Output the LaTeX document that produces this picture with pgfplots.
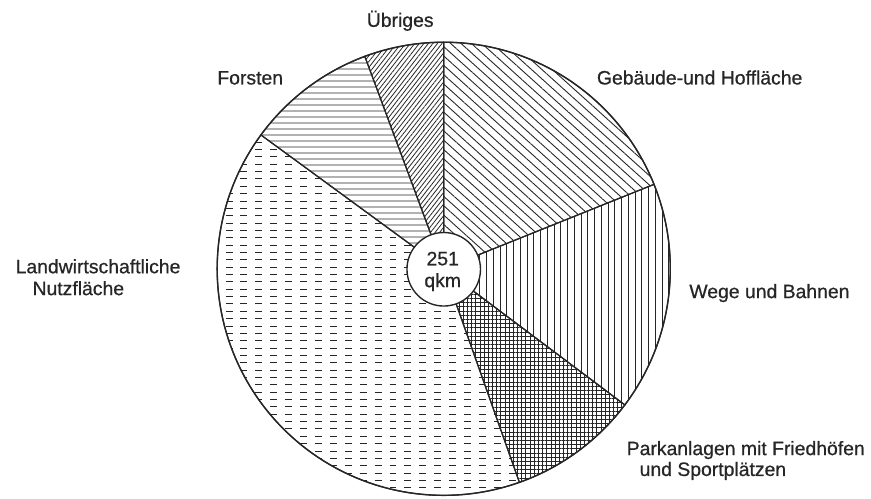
\documentclass[border=0pt]{standalone}
\usepackage{pgfplots}
\pgfplotsset{compat=1.18}
\usepackage{pgfplotstable}
\usetikzlibrary{patterns,patterns.meta}
\usepackage{fontspec}
\setmainfont{Liberation Sans}[FakeBold=0.7]

\pgfdeclarepatternformonly{hdashes}{\pgfqpoint{-1pt}{-1pt}}{\pgfqpoint{16pt}{8pt}}{\pgfqpoint{15pt}{7.4pt}}{%
  \pgfsetlinewidth{1pt}%
  \pgfpathmoveto{\pgfqpoint{2pt}{3.7pt}}%
  \pgfpathlineto{\pgfqpoint{9pt}{3.7pt}}%
  \pgfusepath{stroke}}

% area in qkm, clockwise from 12 o'clock
\pgfplotstableread[col sep=comma]{
name,qkm
Gebaeude,47.5
Wege,41.0
Park,23.4
Landw,101.6
Forsten,23.3
Uebriges,14.2
}\slices

\tikzset{
  pc/.style={pattern color=black!85},
  slice0/.style={pc,pattern={Lines[angle=-42,distance=7pt,line width=0.9pt]}},
  slice1/.style={pc,pattern={Lines[angle=90,distance=6.8pt,line width=0.9pt]}},
  slice2/.style={pc,pattern={Hatch[angle=0,distance=4.2pt,line width=0.75pt]}},
  slice3/.style={pc,pattern=hdashes},
  slice4/.style={pc,pattern={Lines[angle=0,distance=6.5pt,line width=0.9pt]}},
  slice5/.style={pc,pattern={Lines[angle=52,distance=3.6pt,line width=0.8pt]}},
  lab/.style={font=\fontsize{19.5}{23}\selectfont, text=black!85, inner sep=0pt},
}

\begin{document}
\def\curang{90}
\pgfplotsforeachungrouped \i in {0,...,5}{%
  \pgfplotstablegetelem{\i}{qkm}\of\slices
  \pgfmathsetmacro\endang{\curang-\pgfplotsretval/251*360}%
  \expandafter\xdef\csname sa\i\endcsname{\curang}%
  \expandafter\xdef\csname ea\i\endcsname{\endang}%
  \xdef\curang{\endang}%
}
\begin{tikzpicture}
\begin{axis}[x=1pt,y=1pt,xmin=0,xmax=871,ymin=0,ymax=502,
  axis lines=none, scale only axis, clip=false]
\pgfplotsinvokeforeach{0,...,5}{
  \filldraw[slice#1, draw=black!85, line width=1.2pt]
    (axis cs:441,231.5) -- ++(\csname sa#1\endcsname:228pt)
    arc[start angle=\csname sa#1\endcsname, end angle=\csname ea#1\endcsname, radius=228pt] -- cycle;
}
\draw[black!85, line width=1.4pt] (axis cs:441,231.5) circle[radius=228pt];
\filldraw[fill=white, draw=black!85, line width=1.4pt] (axis cs:441,231) circle[radius=37pt];
\node[lab, anchor=base] at (axis cs:440,235) {251};
\node[lab, anchor=base] at (axis cs:440,213) {qkm};
\node[lab, anchor=base east] at (axis cs:431,475) {Übriges};
\node[lab, anchor=base west] at (axis cs:213,417) {Forsten};
\node[lab, anchor=base west] at (axis cs:595,417) {Gebäude-und Hoffläche};
\node[lab, anchor=base west] at (axis cs:688,202) {Wege und Bahnen};
\node[lab, anchor=base west] at (axis cs:625,44) {Parkanlagen mit Friedhöfen};
\node[lab, anchor=base west] at (axis cs:638,23) {und Sportplätzen};
\node[lab, anchor=base west] at (axis cs:10,227) {Landwirtschaftliche};
\node[lab, anchor=base west] at (axis cs:27,205) {Nutzfläche};
\end{axis}
\pgfresetboundingbox
\path (0,0) rectangle (871pt,502pt);
\end{tikzpicture}
\end{document}
